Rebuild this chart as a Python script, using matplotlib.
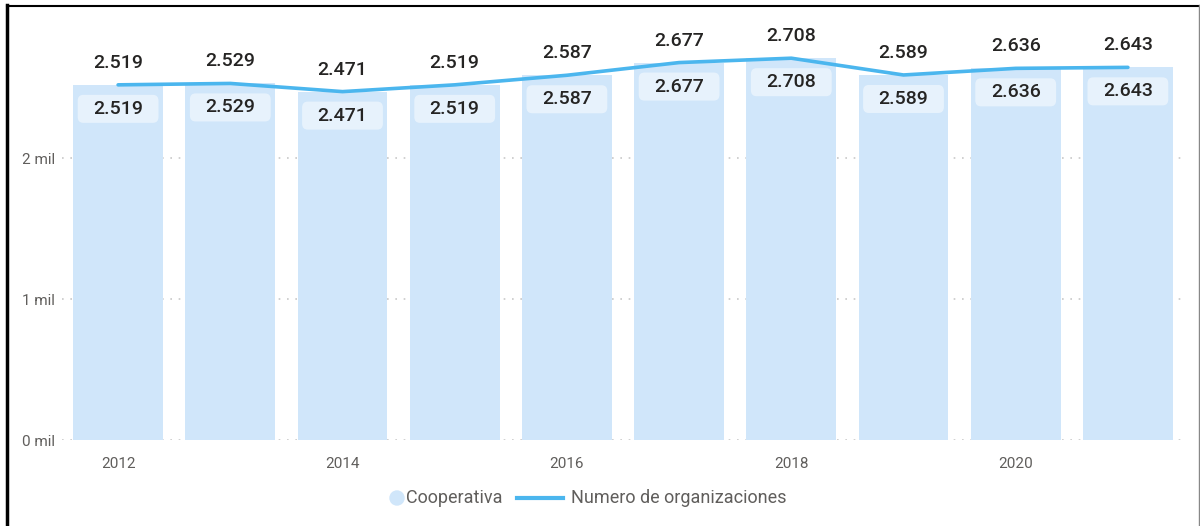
import matplotlib
matplotlib.use("Agg")
import matplotlib.pyplot as plt
from matplotlib.patches import FancyBboxPatch, Ellipse
from matplotlib.lines import Line2D
import numpy as np

plt.rcParams['font.family'] = ['Roboto', 'DejaVu Sans']

years = [2012, 2013, 2014, 2015, 2016, 2017, 2018, 2019, 2020, 2021]
cooperativa = [2519, 2529, 2471, 2519, 2587, 2677, 2708, 2589, 2636, 2643]
organizaciones = [2519, 2529, 2471, 2519, 2587, 2677, 2708, 2589, 2636, 2643]
year_ticks = [2012, 2014, 2016, 2018, 2020]
y_ticks = [0, 1000, 2000]
y_tick_labels = ["0 mil", "1 mil", "2 mil"]
legend_labels = ["Cooperativa", "Numero de organizaciones"]

W, H = 1200, 526
fig = plt.figure(figsize=(W / 100, H / 100), dpi=100)
ax = fig.add_axes([62 / W, 1 - 440 / H, (1184 - 62) / W, (440 - 30) / H])

bar_color = "#D0E6FA"
line_color = "#4BB6EE"
text_color = "#252423"
tick_color = "#605E5C"

x = np.arange(len(years))
ax.bar(x, cooperativa, width=0.8, color=bar_color, zorder=2)
ax.plot(x, organizaciones, color=line_color, lw=2.6, zorder=4, solid_capstyle="round")

ax.set_xlim(-0.5, len(years) - 0.5)
ax.set_ylim(0, 2908)

ax.set_yticks(y_ticks)
ax.set_yticklabels(y_tick_labels)
ax.set_xticks([years.index(y) for y in year_ticks])
ax.set_xticklabels([str(y) for y in year_ticks])
ax.tick_params(axis="both", length=0, colors=tick_color, labelsize=11)
ax.tick_params(axis="y", pad=5)
ax.tick_params(axis="x", pad=12)
for s in ax.spines.values():
    s.set_visible(False)
ax.yaxis.grid(True, linestyle=(0, (1, 4)), color="#C8C8C8", lw=1.2, zorder=1)
ax.set_axisbelow(True)

py = 2908 / 410.0
for i, (c, o) in enumerate(zip(cooperativa, organizaciones)):
    ax.text(i, o + 22 * py, f"{o/1000:.3f}", ha="center", va="center",
            fontsize=14, fontweight=500, color=text_color, zorder=6)
    top = c - 10 * py
    h = 28 * py
    box = FancyBboxPatch((i - 0.36, top - h), 0.72, h,
                         boxstyle="round,pad=0,rounding_size=0.05",
                         mutation_aspect=6 * py / 0.05,
                         facecolor="white", alpha=0.5, edgecolor="none", zorder=3)
    ax.add_patch(box)
    ax.text(i, top - h / 2, f"{c/1000:.3f}", ha="center", va="center",
            fontsize=14, fontweight=500, color=text_color, zorder=6)

def fx(px):
    return px / W

def fy(py_):
    return 1 - py_ / H

ly = 498
fig.add_artist(Ellipse((fx(397), fy(ly)), 14 / W, 14 / H, color=bar_color,
                       transform=fig.transFigure))
fig.text(fx(406), fy(ly), legend_labels[0], ha="left", va="center",
         fontsize=13, color=tick_color)
fig.add_artist(Line2D([fx(517), fx(563)], [fy(ly), fy(ly)], color=line_color, lw=3,
                      transform=fig.transFigure))
fig.text(fx(571), fy(ly), legend_labels[1], ha="left", va="center",
         fontsize=13, color=tick_color)

fig.add_artist(Line2D([7 / W, 7 / W], [0, 1 - 5 / H], color="black", lw=2.5,
                      transform=fig.transFigure))
fig.add_artist(Line2D([7 / W, 1199 / W], [1 - 5.5 / H, 1 - 5.5 / H], color="black", lw=1.5,
                      transform=fig.transFigure))
fig.add_artist(Line2D([1199 / W, 1199 / W], [0, 1 - 5 / H], color="#888888", lw=1,
                      transform=fig.transFigure))

fig.savefig("out.png", dpi=100)
